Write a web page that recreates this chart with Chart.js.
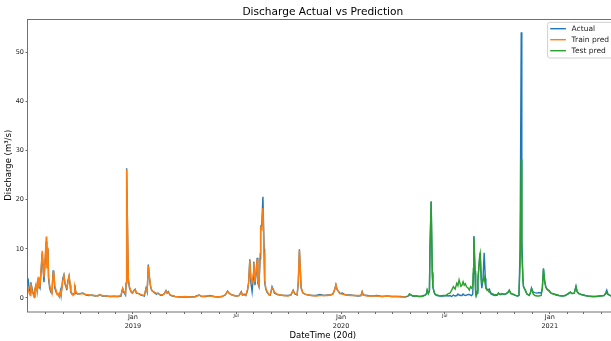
<!DOCTYPE html>
<html>
<head>
<meta charset="utf-8">
<title>Discharge Actual vs Prediction</title>
<script src="https://cdn.jsdelivr.net/npm/chart.js@4.4.1/dist/chart.umd.min.js"></script>
<style>
  html, body { margin: 0; padding: 0; background: #fff; overflow: hidden; }
  #wrap { width: 611px; height: 341px; overflow: hidden; }
</style>
</head>
<body>
<div id="wrap"><canvas id="chart" width="622" height="341"></canvas></div>
<script>
// day offsets are counted from the first day of the series
const startDate = Date.UTC(2018, 6, 1);
const lastDay = 1034;

// training period
const trainDays = [
  0, 2, 4, 5, 7, 9, 11, 12, 14, 16, 18, 19, 21, 23, 25, 27, 28, 30, 32, 33,
  35, 36, 38, 40, 42, 44, 45, 47, 50, 51, 53, 55, 57, 58, 61, 63, 65, 67, 68, 70,
  72, 74, 75, 77, 79, 81, 82, 84, 87, 91, 96, 102, 107, 112, 118, 123, 126, 130, 137, 144,
  151, 158, 163, 166, 168, 171, 172, 173, 175, 176, 178, 181, 183, 186, 188, 190, 195, 198, 202, 204,
  207, 209, 211, 213, 215, 217, 221, 225, 228, 232, 235, 239, 242, 244, 246, 249, 253, 258, 267, 275,
  284, 293, 300, 305, 312, 319, 326, 333, 340, 346, 350, 353, 358, 365, 370, 374, 376, 379, 382, 385,
  387, 389, 391, 393, 395, 396, 398, 400, 402, 403, 405, 407, 408, 410, 412, 414, 415, 417, 420, 423,
  425, 428, 430, 432, 437, 442, 449, 456, 461, 465, 468, 472, 474, 476, 478, 479, 482, 486, 491, 498,
  505, 512, 519, 526, 531, 535, 538, 540, 542, 545, 547, 551, 554, 558, 565, 572, 579, 584, 586, 588,
  595, 603, 612, 621, 630, 638, 647, 654, 660, 664
];
const trainActual = [
  4.0, 2.0, 1.0, 3.2, 2.0, 1.0, 0.3, 1.5, 2.5, 1.5, 4.0, 2.5, 2.0, 5.5, 9.2, 5.0, 3.2, 7.5, 11.5, 7.0,
  10.0, 4.0, 2.0, 1.2, 1.0, 5.5, 5.6, 2.0, 1.0, 0.9, 0.6, 0.3, 1.5, 0.6, 4.0, 4.7, 2.8, 2.2, 1.6, 3.5,
  4.4, 2.5, 1.2, 0.8, 0.7, 0.9, 2.7, 1.0, 0.8, 0.9, 1.0, 0.6, 0.5, 0.6, 0.4, 0.5, 0.7, 0.4, 0.4, 0.3,
  0.3, 0.3, 0.4, 1.9, 1.2, 0.6, 3.0, 26.4, 10.0, 3.5, 2.0, 1.2, 1.0, 1.6, 1.8, 1.0, 0.9, 0.6, 0.5, 0.4,
  2.0, 1.2, 6.8, 4.0, 2.3, 1.5, 1.2, 0.8, 1.0, 0.6, 0.5, 0.9, 1.5, 1.0, 1.3, 0.6, 0.4, 0.3, 0.2, 0.2,
  0.2, 0.3, 0.6, 0.3, 0.3, 0.5, 0.3, 0.2, 0.3, 0.6, 1.4, 0.9, 0.6, 0.4, 0.5, 1.3, 0.6, 0.8, 0.5, 1.5,
  3.3, 7.9, 3.0, 1.3, 4.0, 7.4, 2.6, 5.0, 8.2, 3.0, 2.3, 8.0, 14.5, 15.0, 20.6, 10.0, 3.3, 1.8, 1.0, 0.7,
  0.6, 2.3, 1.7, 1.0, 0.7, 0.6, 0.5, 0.5, 0.6, 1.6, 0.8, 0.6, 3.0, 9.9, 4.5, 2.0, 1.0, 0.8, 0.6, 0.5,
  0.5, 0.7, 0.5, 0.6, 0.6, 0.9, 1.8, 2.7, 1.7, 1.3, 0.9, 1.0, 0.8, 0.6, 0.6, 0.5, 0.4, 0.5, 1.3, 0.6,
  0.5, 0.4, 0.5, 0.3, 0.4, 0.3, 0.3, 0.3, 0.2, 0.3
];
const trainPred = [
  2.0, 1.0, 0.5, 3.0, 1.5, 0.8, 0.1, 1.8, 2.8, 1.2, 4.3, 2.2, 2.5, 6.0, 9.6, 5.5, 4.2, 8.0, 12.5, 6.0,
  10.3, 4.5, 2.6, 1.6, 0.9, 5.0, 5.5, 2.5, 1.3, 0.7, 0.9, 0.2, 1.2, 0.7, 3.5, 4.6, 3.0, 2.5, 1.9, 3.2,
  4.5, 2.8, 1.4, 1.0, 0.5, 0.8, 2.3, 1.2, 0.9, 0.8, 0.9, 0.7, 0.6, 0.5, 0.5, 0.4, 0.7, 0.5, 0.4, 0.3,
  0.4, 0.3, 0.5, 2.0, 1.4, 0.8, 3.0, 26.2, 11.0, 4.0, 2.3, 1.3, 1.0, 1.5, 1.7, 1.1, 0.8, 0.7, 0.5, 0.6,
  1.8, 1.4, 6.6, 4.3, 2.4, 1.6, 1.1, 1.0, 0.9, 0.7, 0.6, 0.8, 1.4, 1.1, 1.2, 0.7, 0.5, 0.3, 0.2, 0.3,
  0.2, 0.2, 0.6, 0.3, 0.4, 0.4, 0.3, 0.2, 0.3, 0.7, 1.3, 1.0, 0.6, 0.4, 0.5, 1.1, 0.7, 0.6, 0.6, 1.8,
  3.0, 7.7, 4.0, 3.2, 5.0, 7.2, 3.2, 5.5, 8.0, 3.5, 2.6, 9.0, 14.3, 14.0, 18.3, 9.0, 3.8, 2.0, 1.2, 0.6,
  0.8, 2.1, 1.9, 1.2, 0.8, 0.6, 0.5, 0.4, 0.6, 1.5, 0.9, 0.7, 3.5, 9.7, 4.8, 2.2, 1.1, 0.8, 0.6, 0.5,
  0.4, 0.5, 0.5, 0.5, 0.7, 0.8, 1.7, 2.7, 1.8, 1.2, 0.9, 0.8, 0.7, 0.6, 0.5, 0.5, 0.5, 0.5, 1.2, 0.6,
  0.4, 0.4, 0.4, 0.3, 0.4, 0.3, 0.3, 0.2, 0.2, 0.2
];

// test period
const testDays = [
  667, 669, 672, 675, 681, 686, 691, 697, 699, 700, 702, 704, 705, 707, 709, 710, 712, 714, 717, 723,
  728, 733, 737, 740, 743, 746, 749, 752, 754, 756, 759, 761, 763, 765, 767, 769, 772, 774, 776, 778,
  780, 781, 782, 784, 785, 786, 788, 789, 792, 793, 795, 796, 798, 800, 802, 803, 806, 809, 812, 816,
  819, 823, 825, 828, 831, 835, 838, 842, 844, 847, 851, 854, 858, 861, 863, 865, 866, 868, 869, 872,
  875, 879, 881, 883, 886, 889, 893, 896, 900, 902, 904, 906, 908, 910, 914, 917, 921, 926, 931, 937,
  942, 947, 951, 954, 958, 961, 963, 966, 972, 977, 982, 989, 996, 1003, 1010, 1013, 1015, 1017, 1023, 1028,
  1034
];
const testActual = [
  0.4, 0.8, 0.6, 0.4, 0.4, 0.3, 0.4, 0.6, 1.0, 1.6, 0.9, 1.5, 10.0, 19.6, 5.0, 2.3, 1.2, 0.7, 0.5, 0.4,
  0.4, 0.5, 0.4, 0.5, 0.3, 0.6, 0.4, 0.5, 0.8, 0.6, 0.5, 0.5, 0.8, 0.6, 0.5, 0.6, 0.7, 0.7, 0.6, 0.5,
  0.8, 5.0, 12.6, 5.0, 1.0, 0.4, 1.0, 3.7, 8.0, 9.2, 3.0, 2.0, 4.0, 9.2, 4.0, 2.0, 1.6, 1.8, 0.8, 0.6,
  0.5, 0.6, 1.0, 0.7, 0.9, 0.7, 0.8, 1.2, 1.5, 0.9, 0.8, 0.6, 0.4, 0.5, 10.0, 54.1, 12.0, 4.0, 2.3, 1.6,
  0.8, 0.5, 1.0, 2.0, 1.2, 1.1, 1.0, 1.1, 1.0, 2.0, 6.0, 3.5, 2.3, 1.8, 1.4, 1.0, 0.9, 0.6, 0.5, 0.4,
  0.5, 0.8, 1.2, 0.9, 1.0, 2.4, 1.3, 0.9, 0.7, 0.5, 0.4, 0.3, 0.3, 0.4, 0.5, 1.0, 1.6, 0.8, 0.4, 0.3,
  0.3
];
const testPred = [
  0.4, 0.8, 0.6, 0.4, 0.4, 0.3, 0.3, 0.6, 0.9, 1.6, 0.9, 1.4, 10.0, 19.7, 5.3, 2.4, 1.3, 0.8, 0.6, 0.4,
  0.5, 0.5, 0.9, 1.0, 1.6, 2.3, 1.8, 3.0, 2.5, 3.7, 2.4, 2.6, 3.3, 2.6, 2.9, 2.3, 2.0, 1.6, 2.3, 2.0,
  2.5, 6.0, 12.4, 5.5, 1.5, 0.6, 1.5, 3.6, 8.5, 9.1, 3.8, 3.0, 3.5, 4.3, 2.6, 2.2, 1.6, 1.2, 1.0, 0.8,
  0.6, 0.7, 1.0, 0.7, 0.8, 0.8, 0.9, 1.1, 1.6, 0.9, 0.7, 0.6, 0.4, 0.5, 7.0, 28.3, 9.0, 3.5, 2.3, 1.6,
  0.8, 0.6, 1.0, 2.0, 0.8, 0.5, 0.4, 0.4, 0.5, 2.0, 6.0, 3.5, 2.3, 1.8, 1.5, 1.0, 0.8, 0.7, 0.5, 0.4,
  0.5, 0.9, 1.2, 0.9, 1.0, 2.3, 1.3, 0.9, 0.6, 0.5, 0.4, 0.3, 0.3, 0.4, 0.5, 0.8, 1.1, 0.7, 0.4, 0.3,
  0.3
];

const yTicks = [0, 10, 20, 30, 40, 50];
const majorLabel = 'Jan';
const minorLabel = 'Jul';

const DAY = 86400000;
const toPoints = (days, vals) => days.map((d, i) => ({ x: d, y: vals[i] }));
const dateOf = d => new Date(startDate + d * DAY);

// one tick per month start
function monthTicks() {
  const ticks = [];
  for (let m = 1; ; m++) {
    const d = (Date.UTC(2018, 6 + m, 1) - startDate) / DAY;
    if (d > lastDay) break;
    ticks.push({ value: d });
  }
  return ticks;
}

const isJul = v => dateOf(v).getUTCMonth() === 6;

const decorations = {
  id: 'decorations',
  afterDatasetsDraw(chart) {
    const { ctx, chartArea: a } = chart;
    ctx.save();
    ctx.strokeStyle = '#707070';
    ctx.lineWidth = 1;
    ctx.strokeRect(Math.round(a.left) - 0.5, Math.round(a.top) + 0.5,
      Math.round(a.right - a.left) + 1, Math.round(a.bottom - a.top) - 0.5);
    ctx.restore();
  },
  afterDraw(chart) {
    const { ctx, chartArea: a } = chart;
    ctx.save();
    // title
    ctx.fillStyle = '#000';
    ctx.font = '10.6px "DejaVu Sans"';
    ctx.textAlign = 'center';
    ctx.textBaseline = 'middle';
    ctx.fillText('Discharge Actual vs Prediction', (a.left + a.right) / 2, 12);

    // legend box, upper right
    const bw = 66, bh = 35.6;
    const bx = a.right - 4 - bw, by = a.top + 3.4;
    ctx.fillStyle = 'rgba(255,255,255,0.8)';
    ctx.strokeStyle = '#d0d0d0';
    ctx.lineWidth = 1;
    ctx.beginPath();
    if (ctx.roundRect) ctx.roundRect(bx, by, bw, bh, 2); else ctx.rect(bx, by, bw, bh);
    ctx.fill();
    ctx.stroke();

    ctx.font = '7.5px "DejaVu Sans"';
    ctx.textAlign = 'left';
    chart.data.datasets.forEach((ds, i) => {
      const y = by + 6.3 + i * 11;
      ctx.strokeStyle = ds.borderColor;
      ctx.lineWidth = 1.4;
      ctx.beginPath();
      ctx.moveTo(bx + 2.6, y);
      ctx.lineTo(bx + 18.3, y);
      ctx.stroke();
      ctx.fillStyle = '#222';
      ctx.fillText(ds.label, bx + 24, y);
    });
    ctx.restore();
  }
};

Chart.defaults.font.family = '"DejaVu Sans", sans-serif';

new Chart(document.getElementById('chart'), {
  type: 'line',
  data: {
    datasets: [
      {
        label: 'Actual',
        data: toPoints(trainDays.concat(testDays), trainActual.concat(testActual)),
        borderColor: '#1f77b4',
        order: 2
      },
      {
        label: 'Train pred',
        data: toPoints(trainDays, trainPred),
        borderColor: '#ff7f0e',
        order: 1
      },
      {
        label: 'Test pred',
        data: toPoints(testDays, testPred),
        borderColor: '#2ca02c',
        order: 0
      }
    ]
  },
  options: {
    responsive: false,
    animation: false,
    devicePixelRatio: 1,
    elements: {
      point: { radius: 0 },
      line: { borderWidth: 1.4, tension: 0, fill: false }
    },
    layout: { padding: { top: 19, right: 4.4, left: 0, bottom: 0 } },
    plugins: {
      legend: { display: false },
      tooltip: { enabled: false },
      title: { display: false }
    },
    scales: {
      x: {
        type: 'linear',
        min: 0,
        max: lastDay,
        afterBuildTicks: scale => { scale.ticks = monthTicks(); },
        afterFit: scale => { scale.height = 29.5; },
        grid: {
          drawOnChartArea: false,
          tickLength: 2.5,
          color: '#444',
          lineWidth: 0.8
        },
        border: { display: false },
        ticks: {
          autoSkip: false,
          maxRotation: 0,
          minRotation: 0,
          padding: -1,
          color: '#222',
          font: ctx => (ctx.tick && isJul(ctx.tick.value))
            ? { size: 4.5, lineHeight: 1.4 }
            : { size: 6.5, lineHeight: 1.4 },
          callback: value => {
            const dt = dateOf(value);
            if (dt.getUTCMonth() === 0) return [majorLabel, String(dt.getUTCFullYear())];
            if (dt.getUTCMonth() === 6) return minorLabel;
            return '';
          }
        },
        title: {
          display: true,
          text: 'DateTime (20d)',
          color: '#000',
          font: { size: 8.5 },
          padding: { top: 0, bottom: 0 }
        }
      },
      y: {
        min: -2.75,
        max: 56.8,
        afterBuildTicks: scale => { scale.ticks = yTicks.map(v => ({ value: v })); },
        afterFit: scale => { scale.width = 28; },
        grid: {
          drawOnChartArea: false,
          tickLength: 2.5,
          color: '#444',
          lineWidth: 0.8
        },
        border: { display: false },
        ticks: {
          padding: 1.5,
          color: '#222',
          font: { size: 6.5 }
        },
        title: {
          display: true,
          text: 'Discharge (m³/s)',
          color: '#000',
          font: { size: 8.5 },
          padding: { top: 3.9, bottom: 0 }
        }
      }
    }
  },
  plugins: [decorations]
});
</script>
</body>
</html>
